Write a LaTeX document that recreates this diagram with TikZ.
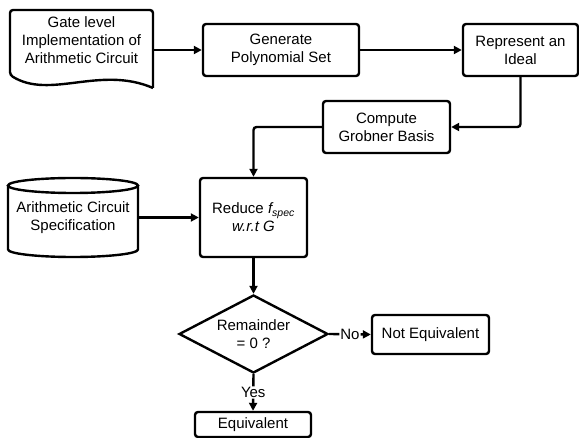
\documentclass[tikz,border=0pt]{standalone}
\usepackage{fontspec}
\setmainfont{Liberation Sans}
\usetikzlibrary{arrows.meta,shapes.geometric}

\begin{document}
\begin{tikzpicture}[x=1pt,y=-1pt,
    font=\fontsize{15}{18}\selectfont,
    line width=2.4pt,
    box/.style={draw,rounded corners=3pt,align=center,inner sep=2pt},
    arr/.style={-{Triangle[length=8pt,width=8pt]},rounded corners=3pt},
    tag/.style={fill=white,inner sep=1pt}]
      \useasboundingbox (0,0) rectangle (579,438);

      % document shape for the circuit
      \draw (153,88) [rounded corners=3pt] -- (153,10) -- (10,10) -- (10,75) [sharp corners]
        .. controls (50,100) and (100,65) .. (153,88);
      \node[align=center,minimum width=143pt] (gate) at (81.5,40) {Gate level\\Implementation of\\Arithmetic Circuit};

      % cylinder for the spec
      \draw (8,185.5) -- (8,249.5) arc[start angle=180,end angle=360,x radius=65pt,y radius=7.5pt] -- (138,185.5);
      \draw (73,185.5) ellipse[x radius=65pt,y radius=7.5pt];
      \node[align=center,minimum width=130pt] (spec) at (73,217.5) {Arithmetic Circuit\\Specification};

      \node[box,minimum width=156pt,minimum height=52pt] (poly) at (281,50) {Generate\\Polynomial Set};
      \node[box,minimum width=115pt,minimum height=52pt] (ideal) at (520.5,50) {Represent an\\Ideal};
      \node[box,minimum width=127pt,minimum height=52pt] (grob) at (386.5,127) {Compute\\Grobner Basis};
      \node[box,minimum width=107pt,minimum height=79pt] (reduce) at (253.5,217.5) {Reduce \textit{f\textsubscript{spec}}\\\textit{w.r.t G}};
      \node[draw,diamond,shape aspect=2,inner sep=0pt,align=center,minimum width=149pt,minimum height=78pt] (rem) at (253.5,334) {Remainder\\= 0 ?};
      \node[box,minimum width=117pt,minimum height=39pt] (noteq) at (430.5,334.5) {Not Equivalent};
      \node[box,minimum width=116pt,minimum height=25pt] (eq) at (253,424.5) {Equivalent};

      \draw[arr] ([yshift=-10pt]gate.east) -- (poly.west);
      \draw[arr] (poly) -- (ideal);
      \draw[arr] (ideal.south) |- (grob.east);
      \draw[arr] (grob.west) -| (reduce.north);
      \draw[arr] (spec.east) -- (reduce.west);
      \draw[arr] (reduce.south) -- (rem.north);
      \draw[arr] (rem.east) -- node[tag] {No} (noteq.west);
      \draw[arr] (rem.south) -- node[tag] {Yes} (eq.north);

    \end{tikzpicture}
\end{document}
